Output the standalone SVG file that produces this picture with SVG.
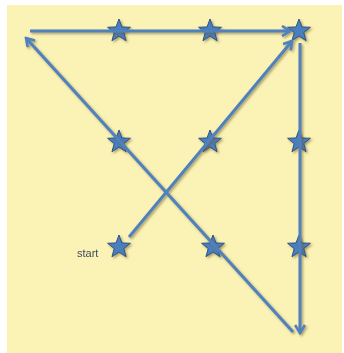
<svg xmlns="http://www.w3.org/2000/svg" width="344" height="353" viewBox="0 0 344 353">
<defs>
<style>
.ln{fill:none;stroke:#4f81bd;stroke-width:3;stroke-linecap:butt}
.st{fill:#4a7ebf;stroke:#2c5282;stroke-width:1}
.lbl{font-family:"Liberation Sans",Arial,sans-serif;font-size:11px;fill:#3b4a66}
</style>
<filter id="sh" x="-20%" y="-20%" width="140%" height="140%">
<feDropShadow dx="1.5" dy="1.5" stdDeviation="0.8" flood-color="#6b5a20" flood-opacity="0.55"/>
</filter>
<marker id="ah" viewBox="0 0 12 12" refX="10" refY="6" markerWidth="12" markerHeight="12" markerUnits="userSpaceOnUse" orient="auto">
<path d="M2,1 L10,6 L2,11" fill="none" stroke="#4f81bd" stroke-width="2.6" stroke-linejoin="miter"/>
</marker>
<path id="star" d="M0,-12 L2.94,-4.05 L11.41,-3.71 L4.76,1.55 L7.05,9.71 L0,5 L-7.05,9.71 L-4.76,1.55 L-11.41,-3.71 L-2.94,-4.05 Z"/>
</defs>
<rect x="7" y="5" width="335" height="348" fill="#fbf3b6"/>
<g id="stars" filter="url(#sh)">
<g id="s1"><use href="#star" class="st" x="119" y="31"/></g>
<g id="s2"><use href="#star" class="st" x="210" y="31"/></g>
<g id="s3"><use href="#star" class="st" x="299" y="31"/></g>
<g id="s4"><use href="#star" class="st" x="119" y="142"/></g>
<g id="s5"><use href="#star" class="st" x="210" y="142"/></g>
<g id="s6"><use href="#star" class="st" x="299" y="142"/></g>
<g id="s7"><use href="#star" class="st" x="119" y="247"/></g>
<g id="s8"><use href="#star" class="st" x="213" y="247"/></g>
<g id="s9"><use href="#star" class="st" x="299" y="247"/></g>
</g>
<g id="connectors" filter="url(#sh)">
<line class="ln" x1="30" y1="31" x2="290" y2="31" marker-end="url(#ah)"/>
<line class="ln" x1="129" y1="237" x2="292" y2="41" marker-end="url(#ah)"/>
<line class="ln" x1="300" y1="43" x2="300" y2="333" marker-end="url(#ah)"/>
<line class="ln" x1="293" y1="332" x2="26" y2="38" marker-end="url(#ah)"/>
</g>
<g id="label"><text class="lbl" x="77" y="257">start</text></g>
</svg>
